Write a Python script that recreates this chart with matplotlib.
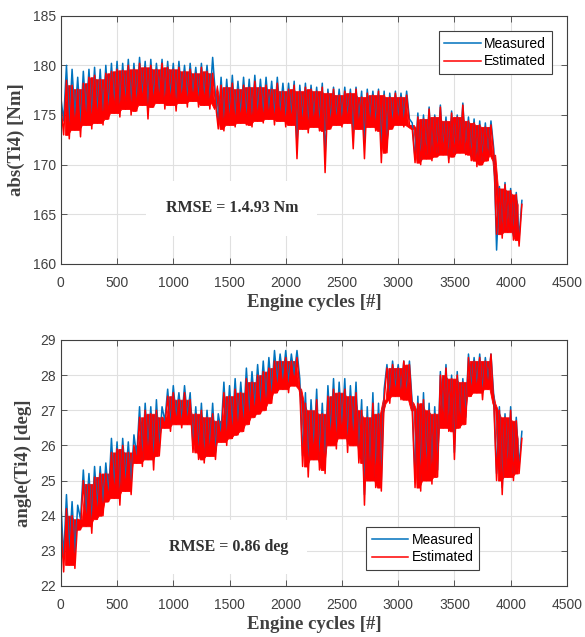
#!/usr/bin/env python
import matplotlib
matplotlib.use("Agg")
import matplotlib.pyplot as plt
import numpy as np
from numpy.lib.stride_tricks import sliding_window_view

# samples every 25 engine cycles, 0 .. 4100
cycle_step = 25

# abs(Ti4) [Nm]
meas_abs = [
    176.8, 174.4, 180.0, 174.0, 179.6, 174.8, 178.8, 174.2, 179.4, 175.0,
    179.6, 174.8, 179.8, 175.2, 179.6, 175.0, 180.0, 175.6, 180.2, 176.0,
    180.4, 175.8, 180.2, 176.4, 180.6, 176.0, 180.2, 176.2, 180.8, 176.8,
    180.4, 175.8, 180.6, 176.6, 180.2, 177.0, 180.6, 176.4, 180.4, 176.8,
    180.2, 176.2, 180.4, 177.0, 180.0, 176.6, 180.2, 177.0, 179.8, 176.6,
    180.2, 176.8, 180.0, 176.4, 180.8, 177.0, 174.2, 178.8, 174.2, 178.6,
    174.8, 179.0, 174.6, 178.4, 175.0, 178.8, 174.8, 178.6, 174.6, 179.0,
    175.2, 178.6, 175.0, 178.8, 175.4, 178.4, 174.8, 178.8, 175.2, 178.2,
    174.6, 178.2, 174.8, 178.4, 172.0, 178.0, 174.4, 178.2, 174.0, 178.0,
    174.6, 177.8, 174.2, 178.2, 171.0, 177.6, 174.4, 177.8, 174.6, 177.6,
    174.6, 177.8, 174.8, 177.6, 173.0, 177.8, 174.4, 177.4, 172.2, 177.6,
    174.6, 177.4, 174.2, 177.6, 171.8, 177.4, 172.6, 177.2, 174.4, 177.4,
    174.6, 177.2, 174.6, 177.4, 174.6, 174.2, 170.6, 175.2, 170.4, 175.0,
    171.0, 175.8, 170.8, 175.0, 171.2, 176.0, 171.4, 174.8, 170.6, 175.4,
    171.2, 175.0, 171.6, 176.2, 171.4, 174.8, 170.8, 174.6, 170.2, 174.4,
    170.4, 174.2, 170.8, 174.4, 171.6, 161.4, 167.8, 163.0, 168.2, 163.4,
    167.6, 162.8, 167.2, 162.6, 166.4,
]
est_abs = [
    176.0, 173.0, 178.5, 172.6, 178.0, 173.5, 177.6, 172.8, 178.2, 174.0,
    178.8, 173.6, 179.0, 174.2, 178.6, 174.0, 179.2, 174.6, 179.4, 175.2,
    179.6, 174.8, 179.5, 175.6, 180.0, 175.0, 179.6, 175.4, 180.2, 176.0,
    179.8, 174.6, 180.0, 175.8, 179.6, 176.2, 180.2, 175.6, 179.8, 176.0,
    179.6, 175.4, 179.8, 176.2, 179.4, 175.8, 179.6, 176.4, 179.2, 175.8,
    179.8, 176.0, 179.4, 175.6, 179.2, 176.2, 173.6, 178.0, 173.4, 177.8,
    174.0, 178.2, 173.8, 177.6, 174.2, 178.0, 174.0, 177.8, 173.8, 178.4,
    174.4, 177.8, 174.2, 178.0, 174.6, 177.6, 174.0, 178.2, 174.4, 177.4,
    173.8, 177.6, 174.0, 178.0, 170.6, 177.4, 173.6, 177.8, 173.2, 177.6,
    173.8, 177.4, 173.4, 177.8, 169.2, 177.2, 173.6, 177.6, 174.0, 177.0,
    173.8, 177.4, 174.2, 177.2, 171.6, 177.6, 173.6, 176.8, 170.6, 177.2,
    173.8, 177.0, 173.4, 177.4, 170.2, 177.0, 171.2, 176.8, 173.6, 177.2,
    174.0, 176.8, 173.8, 177.0, 174.0, 173.6, 170.2, 174.8, 170.0, 174.6,
    170.6, 175.6, 170.4, 174.8, 170.8, 175.8, 171.0, 174.4, 170.2, 175.2,
    170.8, 174.8, 171.2, 176.0, 171.0, 174.4, 170.4, 174.2, 169.8, 174.0,
    170.0, 173.8, 170.4, 174.0, 171.0, 163.0, 167.6, 162.6, 168.0, 163.2,
    167.4, 162.4, 167.0, 161.8, 166.0,
]

# angle(Ti4) [deg], grouped by operating segment
meas_ang = [
    24.4, 22.8, 24.6, 23.0, 24.4, 22.9, 24.3,
    23.9, 25.3, 24.0, 25.2, 23.8, 25.4, 24.2, 25.4, 24.3,
    25.5, 24.6, 26.2, 24.8, 26.1, 24.6, 26.2, 25.0, 26.1, 24.9, 26.3,
    25.7, 27.1, 25.6, 27.2, 25.9, 27.1, 25.6, 27.3, 25.9, 27.1,
    26.7, 27.6, 26.6, 27.7, 26.8, 27.5, 26.7, 27.7, 26.8, 27.5,
    26.0, 27.1, 25.8, 27.2, 25.7, 27.0, 25.9, 27.2, 25.8, 26.9,
    26.4, 27.8, 26.3, 27.7, 26.5, 27.9, 26.6, 27.8, 26.7,
    28.2, 26.9, 28.1, 27.1, 28.3, 27.2, 28.4, 27.3, 28.5, 27.5,
    28.7, 27.8, 28.6, 27.9, 28.7, 27.8, 28.6, 28.0, 28.7, 27.9,
    25.7, 27.5, 25.4, 27.3, 25.9, 27.6, 25.6, 27.2, 25.5,
    27.7, 26.3, 27.9, 26.2, 27.8, 26.5, 27.9, 26.1, 27.7, 26.3, 27.8, 25.8,
    27.3, 24.6, 27.1, 25.3, 27.5, 25.1, 27.2, 25.0,
    27.6, 28.3, 27.4, 28.4, 27.6, 28.3, 27.5, 28.4, 27.5, 28.4,
    27.2, 25.1, 27.4, 25.0, 27.5, 25.3, 27.2, 25.2, 27.1, 25.3,
    28.1, 26.7, 28.3, 26.6, 28.0, 25.8, 28.1, 26.7, 27.9, 26.8,
    28.6, 27.6, 28.5, 27.7, 28.6, 27.5, 28.5, 27.8, 28.6, 27.4,
    25.2, 27.1, 24.8, 26.9, 25.3, 27.1, 25.2, 26.8, 25.4, 26.4,
]
est_ang = [
    23.8, 22.4, 24.2, 22.6, 24.0, 22.5, 23.9,
    23.6, 25.0, 23.7, 24.9, 23.5, 25.1, 23.9, 25.2, 24.0,
    25.2, 24.4, 25.8, 24.5, 25.9, 24.3, 26.0, 24.7, 25.8, 24.6, 26.0,
    25.5, 26.8, 25.4, 27.0, 25.6, 26.9, 25.3, 27.0, 25.7, 26.8,
    26.5, 27.4, 26.4, 27.5, 26.6, 27.3, 26.5, 27.5, 26.6, 27.3,
    25.8, 26.9, 25.6, 27.0, 25.5, 26.8, 25.7, 26.9, 25.6, 26.7,
    26.1, 27.5, 26.0, 27.4, 26.2, 27.6, 26.3, 27.5, 26.4,
    27.9, 26.6, 27.8, 26.8, 28.0, 26.9, 28.1, 27.0, 28.2, 27.2,
    28.4, 27.5, 28.4, 27.6, 28.5, 27.5, 28.4, 27.7, 28.5, 27.6,
    25.4, 27.2, 25.1, 27.0, 25.6, 27.3, 25.3, 26.9, 25.2,
    27.4, 26.0, 27.6, 25.9, 27.5, 26.2, 27.6, 25.8, 27.4, 26.0, 27.5, 25.5,
    27.0, 24.3, 26.8, 25.0, 27.2, 24.8, 26.9, 24.7,
    27.3, 28.2, 27.2, 28.3, 27.4, 28.2, 27.3, 28.4, 27.3, 28.3,
    27.0, 24.8, 27.2, 24.7, 27.3, 25.0, 27.0, 24.9, 26.9, 25.1,
    28.0, 26.5, 28.2, 26.4, 27.9, 25.6, 28.0, 26.5, 27.8, 26.6,
    28.5, 27.4, 28.4, 27.5, 28.5, 27.3, 28.4, 27.6, 28.6, 27.2,
    25.0, 27.0, 24.6, 26.8, 25.1, 27.0, 25.0, 26.7, 25.2, 26.2,
]

rmse_abs = "RMSE = 1.4.93 Nm"
rmse_ang = "RMSE = 0.86 deg"

blue = "#0072BD"
red = "#FF0000"
txt = "#404040"

plt.rcParams["font.family"] = ["Liberation Sans", "DejaVu Sans"]
plt.rcParams["font.size"] = 10

fig = plt.figure(figsize=(5.85, 6.37), dpi=100)
ax1 = fig.add_axes([0.104, 0.5856, 0.865, 0.3898])
ax2 = fig.add_axes([0.104, 0.0801, 0.865, 0.3862])

def style_ax(ax, ylim, yticks, ylabel):
    ax.set_xlim(0, 4500)
    ax.set_xticks(np.arange(0, 4501, 500))
    ax.set_ylim(*ylim)
    ax.set_yticks(yticks)
    ax.grid(True, color="#e0e0e0", linewidth=0.8)
    ax.set_axisbelow(True)
    ax.tick_params(direction="in", top=True, right=True, length=4,
                   color="#404040", labelcolor=txt, labelsize=10, width=0.6)
    ax.tick_params(axis="x", pad=8.5)
    for s in ax.spines.values():
        s.set_color("#404040")
        s.set_linewidth(0.8)
    ax.set_xlabel("Engine cycles [#]", family="Liberation Serif",
                  weight="bold", fontsize=13.5, color="#404040", labelpad=3)
    ax.set_ylabel(ylabel, family="Liberation Serif", weight="bold",
                  fontsize=13.5, color="#404040", labelpad=6)

def trace(ax, vals, color, label, core=True):
    # the noisy signal: thin line for the spikes, plus the solid core that
    # the line keeps crossing (2nd/3rd value of every 4 consecutive samples)
    v = np.asarray(vals)
    x = np.arange(len(v)) * cycle_step
    if core:
        win = np.sort(sliding_window_view(v, 4), axis=1)
        xc = x[:-3] + 1.5 * cycle_step
        ax.fill_between(xc, win[:, 1], win[:, 2], color=color, lw=0.6, ec=color)
    ax.plot(x, v, color=color, lw=1.1, label=label)

def add_legend(ax, loc, anchor):
    leg = ax.legend(loc=loc, bbox_to_anchor=anchor, borderaxespad=0, fontsize=10,
                    frameon=True, fancybox=False, framealpha=1, edgecolor="#404040",
                    handlelength=2.6, borderpad=0.4, labelspacing=0.27,
                    handletextpad=0.27)
    leg.get_frame().set_linewidth(0.8)

trace(ax1, meas_abs, blue, "Measured", core=False)
trace(ax1, est_abs, red, "Estimated")
style_ax(ax1, (160, 185), np.arange(160, 186, 5), "abs(Ti4) [Nm]")
ax1.text(1520, 165.6, rmse_abs, ha="center", va="center",
         family="Liberation Serif", weight="bold", fontsize=11.5, color="#303030",
         bbox=dict(boxstyle="square,pad=1.2", fc="white", ec="none"))
add_legend(ax1, "upper right", (0.970, 0.938))

trace(ax2, meas_ang, blue, "Measured", core=False)
trace(ax2, est_ang, red, "Estimated")
style_ax(ax2, (22, 29), np.arange(22, 30, 1), "angle(Ti4) [deg]")
ax2.text(1490, 23.1, rmse_ang, ha="center", va="center",
         family="Liberation Serif", weight="bold", fontsize=11.5, color="#303030",
         bbox=dict(boxstyle="square,pad=1.2", fc="white", ec="none"))
add_legend(ax2, "lower left", (0.604, 0.065))

fig.savefig("out.png", dpi=100)
